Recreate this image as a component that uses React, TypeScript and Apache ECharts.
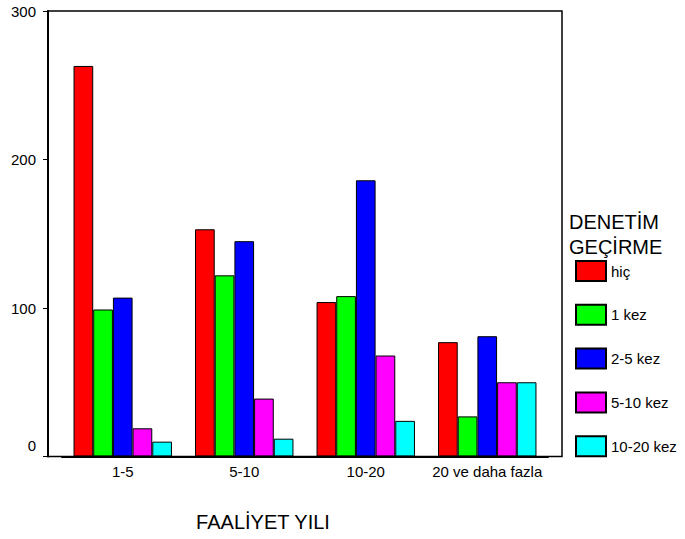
import React, { useEffect, useRef } from "react";
import * as echarts from "echarts";

const categories = ["1-5", "5-10", "10-20", "20 ve daha fazla"];
const seriesNames = ["hiç", "1 kez", "2-5 kez", "5-10 kez", "10-20 kez"];
const hic = [263, 153, 104, 77];
const birKez = [99, 122, 108, 27];
const ikiBesKez = [107, 145, 186, 81];
const besOnKez = [19, 39, 68, 50];
const onYirmiKez = [10, 12, 24, 50];
const colors = ["#ff0000", "#00ff00", "#0000ff", "#ff00ff", "#00ffff"];
const yTicks = { min: 0, max: 300, interval: 100 };
const legendTitle = "DENETİM\nGEÇİRME";
const xTitle = "FAALİYET YILI";

export default function App() {
  const ref = useRef<HTMLDivElement>(null);
  useEffect(() => {
    if (!ref.current) return;
    const chart = echarts.init(ref.current, null, { renderer: "svg" });
    const data = [hic, birKez, ikiBesKez, besOnKez, onYirmiKez];
    const font = "'Liberation Sans', Arial, sans-serif";
    chart.setOption({
      animation: false,
      textStyle: { fontFamily: font },
      grid: { left: 62, right: 137, top: 11, bottom: 82.5, containLabel: false },
      title: {
        text: legendTitle,
        left: 569,
        top: 209,
        padding: 0,
        textStyle: { fontSize: 20, fontWeight: "normal", color: "#000", lineHeight: 25, fontFamily: font },
      },
      legend: {
        orient: "vertical",
        left: 575,
        top: 260,
        padding: 0,
        itemWidth: 30,
        itemHeight: 20,
        itemGap: 21.8,
        icon: "rect",
        textStyle: { fontSize: 15, color: "#000", fontFamily: font },
        data: seriesNames,
      },
      xAxis: {
        type: "category",
        data: categories,
        axisLine: { lineStyle: { color: "#000", width: 2 } },
        axisTick: { alignWithLabel: true, length: 5, lineStyle: { color: "#000", width: 1 } },
        axisLabel: { color: "#000", fontSize: 15, margin: 7, interval: 0, fontFamily: font },
      },
      yAxis: {
        type: "value",
        min: yTicks.min,
        max: yTicks.max,
        interval: yTicks.interval,
        offset: 14,
        splitLine: { show: false },
        axisLine: { show: true, lineStyle: { color: "#000", width: 2 } },
        axisTick: { show: true, length: 5, lineStyle: { color: "#000", width: 1 } },
        axisLabel: {
          color: "#000",
          fontSize: 15,
          margin: 12,
          fontFamily: font,
          formatter: (v: number) => (v === 0 ? "{z|0}" : String(v)),
          rich: { z: { fontSize: 15, color: "#000", padding: [0, 0, 22, 0], fontFamily: font } },
        },
      },
      graphic: [
        {
          type: "rect",
          shape: { x: 48, y: 11, width: 514, height: 445.5 },
          style: { fill: "none", stroke: "#000", lineWidth: 1.5 },
          z: 10,
          silent: true,
        },
        {
          type: "text",
          x: 263,
          y: 522,
          style: { text: xTitle, fontSize: 20, fill: "#000", align: "center", verticalAlign: "middle", fontFamily: font },
        },
      ],
      series: seriesNames.map((name, i) => ({
        name,
        type: "bar",
        data: data[i],
        barGap: "0%",
        barCategoryGap: "19%",
        itemStyle: { color: colors[i], borderColor: "#000", borderWidth: 1 },
      })),
    });
    return () => chart.dispose();
  }, []);
  return <div ref={ref} style={{ position: "fixed", left: 0, top: 0, width: 685, height: 539, background: "#fff" }} />;
}
